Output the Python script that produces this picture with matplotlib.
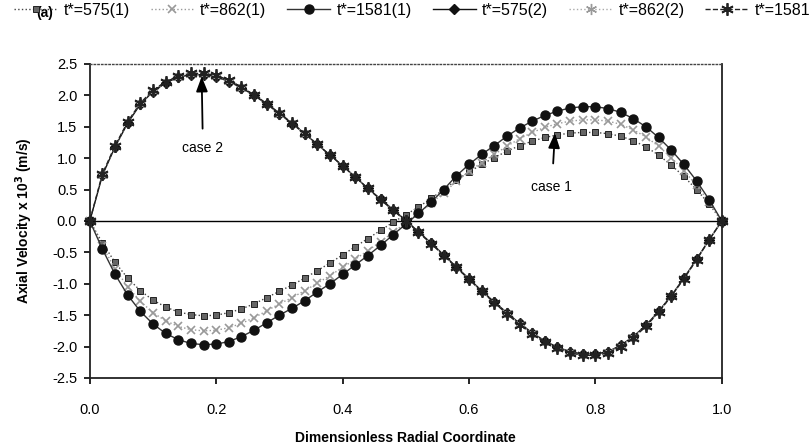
import matplotlib
matplotlib.use("Agg")
import matplotlib.pyplot as plt
import numpy as np

plt.rcParams['font.family'] = ['Liberation Sans', 'DejaVu Sans']

x = [0.00, 0.02, 0.04, 0.06, 0.08, 0.10, 0.12, 0.14, 0.16, 0.18,
     0.20, 0.22, 0.24, 0.26, 0.28, 0.30, 0.32, 0.34, 0.36, 0.38,
     0.40, 0.42, 0.44, 0.46, 0.48, 0.50, 0.52, 0.54, 0.56, 0.58,
     0.60, 0.62, 0.64, 0.66, 0.68, 0.70, 0.72, 0.74, 0.76, 0.78,
     0.80, 0.82, 0.84, 0.86, 0.88, 0.90, 0.92, 0.94, 0.96, 0.98, 1.00]

t575_1 = [0, -0.35, -0.66, -0.91, -1.11, -1.26, -1.37, -1.45, -1.49, -1.51,
          -1.50, -1.46, -1.40, -1.32, -1.22, -1.12, -1.02, -0.91, -0.79, -0.67,
          -0.54, -0.41, -0.28, -0.15, -0.02, 0.10, 0.22, 0.36, 0.50, 0.65,
          0.78, 0.90, 1.01, 1.11, 1.20, 1.27, 1.33, 1.37, 1.40, 1.41,
          1.41, 1.39, 1.35, 1.28, 1.18, 1.05, 0.89, 0.71, 0.50, 0.27, 0.0]

t862_1 = [0, -0.40, -0.76, -1.05, -1.28, -1.46, -1.59, -1.68, -1.73, -1.75,
          -1.74, -1.70, -1.63, -1.54, -1.43, -1.32, -1.22, -1.11, -0.99, -0.87,
          -0.74, -0.61, -0.47, -0.33, -0.18, -0.03, 0.12, 0.28, 0.45, 0.63,
          0.79, 0.93, 1.06, 1.19, 1.31, 1.41, 1.49, 1.55, 1.59, 1.61,
          1.61, 1.59, 1.54, 1.45, 1.34, 1.19, 1.01, 0.80, 0.57, 0.30, 0.0]

t1581_1 = [0, -0.45, -0.85, -1.18, -1.44, -1.64, -1.79, -1.89, -1.95, -1.97,
           -1.96, -1.92, -1.84, -1.74, -1.62, -1.50, -1.39, -1.27, -1.13, -1.00,
           -0.85, -0.70, -0.55, -0.39, -0.22, -0.05, 0.12, 0.30, 0.50, 0.72,
           0.90, 1.06, 1.20, 1.35, 1.48, 1.59, 1.68, 1.75, 1.80, 1.82,
           1.82, 1.79, 1.73, 1.63, 1.50, 1.33, 1.13, 0.90, 0.64, 0.34, 0.0]

t575_2 = [0, 0.73, 1.18, 1.56, 1.86, 2.06, 2.20, 2.29, 2.33, 2.33,
          2.30, 2.22, 2.12, 2.00, 1.86, 1.71, 1.55, 1.39, 1.22, 1.05,
          0.88, 0.70, 0.52, 0.35, 0.18, 0.01, -0.17, -0.35, -0.54, -0.73,
          -0.92, -1.11, -1.29, -1.46, -1.63, -1.78, -1.91, -2.01, -2.08, -2.12,
          -2.12, -2.08, -1.98, -1.84, -1.66, -1.44, -1.19, -0.91, -0.61, -0.30, 0.0]

t862_2 = [0, 0.74, 1.19, 1.57, 1.87, 2.07, 2.21, 2.30, 2.34, 2.34,
          2.31, 2.23, 2.12, 2.00, 1.86, 1.71, 1.56, 1.39, 1.22, 1.05,
          0.88, 0.70, 0.52, 0.34, 0.17, 0.00, -0.18, -0.36, -0.55, -0.74,
          -0.93, -1.12, -1.30, -1.47, -1.64, -1.79, -1.92, -2.02, -2.09, -2.13,
          -2.13, -2.09, -1.99, -1.85, -1.67, -1.45, -1.20, -0.92, -0.62, -0.30, 0.0]

t1581_2 = [0, 0.75, 1.20, 1.58, 1.88, 2.08, 2.22, 2.31, 2.35, 2.35,
           2.32, 2.24, 2.13, 2.01, 1.87, 1.72, 1.56, 1.40, 1.22, 1.05,
           0.88, 0.70, 0.52, 0.34, 0.17, 0.0, -0.18, -0.36, -0.55, -0.74,
           -0.93, -1.12, -1.30, -1.48, -1.65, -1.80, -1.93, -2.03, -2.10, -2.14,
           -2.14, -2.10, -2.00, -1.86, -1.68, -1.45, -1.20, -0.92, -0.62, -0.30, 0.0]

labels = ["t*=575(1)", "t*=862(1)", "t*=1581(1)", "t*=575(2)", "t*=862(2)", "t*=1581(2)"]
xticks = [0.0, 0.2, 0.4, 0.6, 0.8, 1.0]
yticks = [2.5, 2.0, 1.5, 1.0, 0.5, 0.0, -0.5, -1.0, -1.5, -2.0, -2.5]

fig = plt.figure(figsize=(8.09, 4.45), dpi=100)
ax = fig.add_axes([0.111, 0.1506, 0.7812, 0.7056])

series = [t575_1, t862_1, t1581_1, t575_2, t862_2, t1581_2]
styles = [
    dict(color='#444444', linestyle=':', linewidth=1.0, marker='s', markersize=4.5,
         markerfacecolor='#666666', markeredgecolor='#222222', markeredgewidth=0.7),
    dict(color='#999999', linestyle=':', linewidth=1.0, marker='x', markersize=6,
         markeredgecolor='#999999', markeredgewidth=1.2),
    dict(color='#333333', linestyle='-', linewidth=1.0, marker='o', markersize=6.5,
         markerfacecolor='#111111', markeredgecolor='#111111'),
    dict(color='#111111', linestyle='-', linewidth=1.0, marker='D', markersize=5,
         markerfacecolor='#111111', markeredgecolor='#111111'),
    dict(color='#aaaaaa', linestyle=':', linewidth=1.0, marker=(6, 2, 0), markersize=8,
         markeredgecolor='#999999', markeredgewidth=1.0),
    dict(color='#222222', linestyle='--', linewidth=1.0, marker=(6, 2, 0), markersize=9,
         markeredgecolor='#222222', markeredgewidth=1.3),
]
handles = []
for s, lab, st in zip(series, labels, styles):
    h, = ax.plot(x, s, label=lab, clip_on=False, zorder=3, **st)
    handles.append(h)

ax.axhline(0, color='black', linewidth=1.0, zorder=2)
ax.set_xlim(0, 1.0)
ax.set_ylim(-2.5, 2.5)
ax.set_xticks(xticks)
ax.set_xticklabels([f"{v:.1f}" for v in xticks])
ax.set_yticks(yticks)
ax.set_yticklabels([f"{v:.1f}" for v in yticks])
ax.tick_params(axis='both', direction='out', length=4, width=1.2, labelsize=10.5)
ax.tick_params(axis='x', pad=14)
ax.tick_params(axis='y', pad=5)
for sp in ['left', 'bottom', 'right']:
    ax.spines[sp].set_linewidth(1.3)
    ax.spines[sp].set_color('#222222')
ax.spines['top'].set_linestyle(':')
ax.spines['top'].set_color('#444444')
ax.spines['top'].set_linewidth(1.0)

ax.set_xlabel("Dimensionless Radial Coordinate", fontsize=10, fontweight='bold', labelpad=10)
ax.set_ylabel("Axial Velocity x 10$^{\\mathbf{3}}$ (m/s)", fontsize=10, fontweight='bold', labelpad=12)

ax.annotate("case 2", xy=(0.177, 2.3), xytext=(0.179, 1.16), ha='center', va='center',
            fontsize=10, arrowprops=dict(arrowstyle='-|>,head_width=0.35,head_length=0.9',
                                         color='black', lw=1.3, shrinkA=7, shrinkB=0))
ax.annotate("case 1", xy=(0.736, 1.4), xytext=(0.731, 0.54), ha='center', va='center',
            fontsize=10, arrowprops=dict(arrowstyle='-|>,head_width=0.35,head_length=0.9',
                                         color='black', lw=1.3, shrinkA=10, shrinkB=0))

fig.legend(handles=handles, labels=labels, loc='upper left',
           bbox_to_anchor=(14 / 809, 1 - 3 / 445),
           ncol=6, frameon=False, fontsize=11.5, handlelength=2.7, handletextpad=0.4,
           columnspacing=1.3, borderaxespad=0.0, borderpad=0.0)
fig.text(0.045, 0.97, "(a)", fontsize=10, fontweight='bold', ha='left', va='center')

fig.savefig("out.png", dpi=100)
